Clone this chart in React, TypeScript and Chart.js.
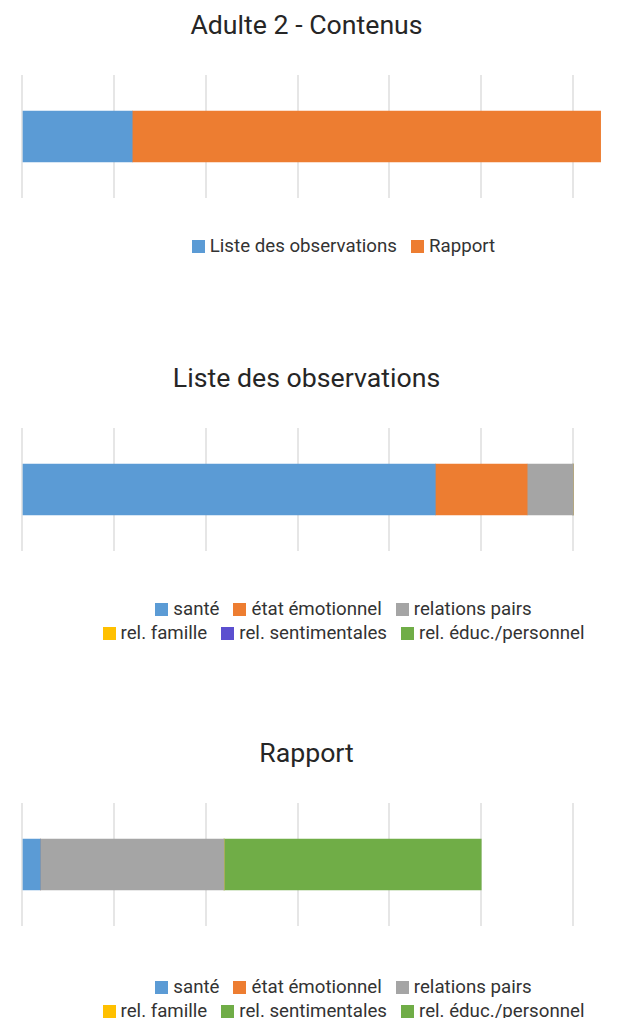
import React, { useEffect, useRef } from "react";
import { Chart, registerables } from "chart.js";

Chart.register(...registerables);

// ---- Data ----
const contenusSeries = ["Liste des observations", "Rapport"];
const contenusValues = [12, 51];
const contenusColors = ["#5b9bd5", "#ed7d31"];

const themeSeries = [
  "santé",
  "état émotionnel",
  "relations pairs",
  "rel. famille",
  "rel. sentimentales",
  "rel. éduc./personnel",
];
const observationsValues = [45, 10, 5, 0, 0, 0];
const observationsColors = ["#5b9bd5", "#ed7d31", "#a5a5a5", "#ffc000", "#5b4fcf", "#70ad47"];
const rapportValues = [2, 0, 20, 0, 0, 28];
const rapportColors = ["#5b9bd5", "#ed7d31", "#a5a5a5", "#ffc000", "#70ad47", "#70ad47"];

const axisMax = 65;
const axisStep = 10;

const FONT = "Roboto, 'Noto Sans', sans-serif";

type BlockProps = {
  title: string;
  series: string[];
  values: number[];
  colors: string[];
  top: number;
  legendTop: number;
};

function StackedBlock({ title, series, values, colors, top, legendTop }: BlockProps) {
  const ref = useRef<HTMLCanvasElement | null>(null);

  useEffect(() => {
    if (!ref.current) return;
    const chart = new Chart(ref.current, {
      type: "bar",
      data: {
        labels: [""],
        datasets: series.map((s, i) => ({
          label: s,
          data: [values[i]],
          backgroundColor: colors[i],
          borderWidth: 0,
          barThickness: 51,
        })),
      },
      options: {
        indexAxis: "y",
        responsive: false,
        animation: false,
        events: [],
        layout: { padding: { left: 22, right: 19, top: 75, bottom: 2 } },
        plugins: {
          legend: { display: false },
          title: { display: false },
          tooltip: { enabled: false },
        },
        scales: {
          x: {
            stacked: true,
            min: 0,
            max: axisMax,
            ticks: { display: false, stepSize: axisStep, includeBounds: false },
            grid: { color: "#e6e6e6", lineWidth: 2, drawTicks: false },
            border: { display: false },
          },
          y: { stacked: true, display: false },
        },
      },
    });
    return () => chart.destroy();
  }, [series, values, colors]);

  const rows: number[][] = [];
  for (let i = 0; i < series.length; i += 3) {
    rows.push(series.slice(i, i + 3).map((_, j) => i + j));
  }

  return (
    <div style={{ position: "absolute", left: 0, top, width: 638 }}>
      <div
        style={{
          position: "absolute",
          left: 0,
          top: 9,
          width: 613,
          textAlign: "center",
          fontFamily: FONT,
          fontSize: 26.7,
          lineHeight: "32px",
          color: "#262626",
          whiteSpace: "nowrap",
        }}
      >
        {title}
      </div>
      <canvas
        ref={ref}
        width={638}
        height={200}
        style={{ position: "absolute", left: 0, top: 0, width: 638, height: 200, display: "block" }}
      />
      <div
        style={{
          position: "absolute",
          left: 40,
          top: legendTop,
          width: 607,
          fontFamily: FONT,
          fontSize: 18.7,
          color: "#333333",
        }}
      >
        {rows.map((row, r) => (
          <div
            key={r}
            style={{
              display: "flex",
              justifyContent: "center",
              alignItems: "center",
              height: 24,
              whiteSpace: "nowrap",
            }}
          >
            {row.map((idx, k) => (
              <div
                key={idx}
                style={{ display: "flex", alignItems: "center", marginLeft: k === 0 ? 0 : 14 }}
              >
                <span
                  style={{
                    display: "inline-block",
                    width: 13,
                    height: 13,
                    background: colors[idx],
                    marginRight: 5,
                  }}
                />
                <span>{series[idx]}</span>
              </div>
            ))}
          </div>
        ))}
      </div>
    </div>
  );
}

export default function App() {
  return (
    <div
      style={{
        position: "absolute",
        left: 0,
        top: 0,
        width: 638,
        height: 1018,
        background: "#ffffff",
        overflow: "hidden",
      }}
    >
      <StackedBlock
        title="Adulte 2 - Contenus"
        series={contenusSeries}
        values={contenusValues}
        colors={contenusColors}
        top={0}
        legendTop={234}
      />
      <StackedBlock
        title="Liste des observations"
        series={themeSeries}
        values={observationsValues}
        colors={observationsColors}
        top={353}
        legendTop={244}
      />
      <StackedBlock
        title="Rapport"
        series={themeSeries}
        values={rapportValues}
        colors={rapportColors}
        top={728}
        legendTop={247}
      />
    </div>
  );
}
